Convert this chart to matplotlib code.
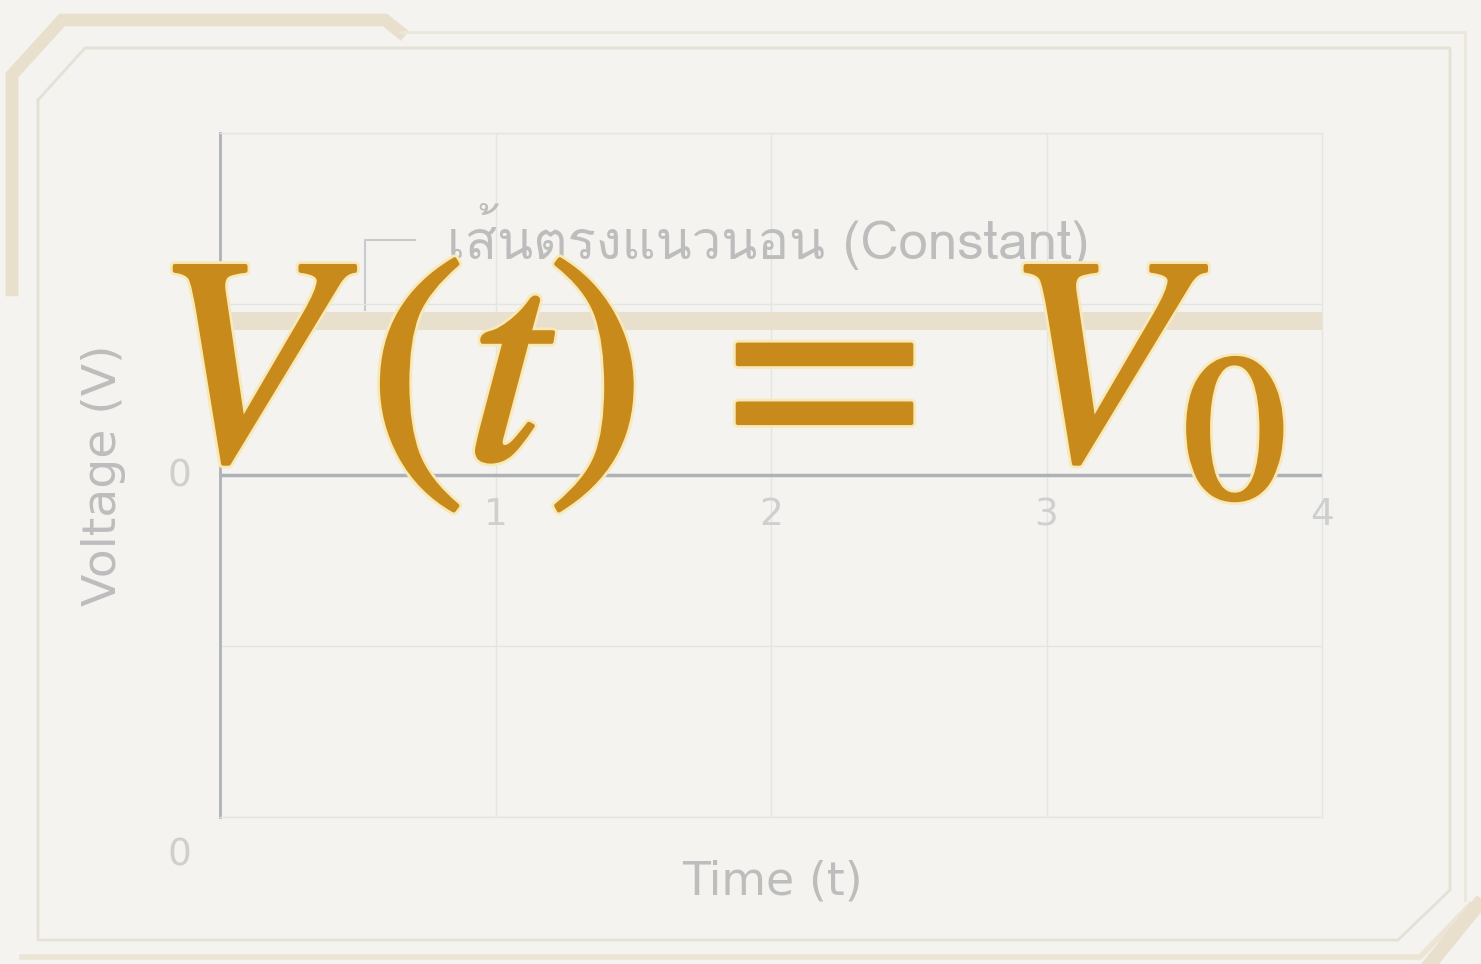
import numpy as np
import matplotlib
matplotlib.use("Agg")
import matplotlib.pyplot as plt
import matplotlib.patheffects as pe
from matplotlib import font_manager
from matplotlib.ft2font import FT2Font

# ---------- DATA ----------
TIME = [0, 4]
V0 = 0.9
X_TICKS = [1, 2, 3, 4]
Y_GRID = [-2, -1, 0, 1, 2]
LEGEND_TEXT = "เส้นตรงแนวนอน (Constant)"
X_LABEL = "Time (t)"
Y_LABEL = "Voltage (V)"
FORMULA = r"$V\,(t)\,=\,V_0$"
# --------------------------

BG = "#f4f3ef"
TAN = "#e9dfcd"
GREY_TXT = "#bdbdbd"
GOLD = "#c98a1c"


def thai_font():
    # look for any installed family that carries Thai glyphs
    for f in font_manager.fontManager.ttflist:
        try:
            if ord("เ") in FT2Font(f.fname).get_charmap():
                return f.name
        except Exception:
            pass
    return None


th = thai_font()
fams = ([th] if th else []) + ["DejaVu Sans"]

plt.rcParams["mathtext.fontset"] = "stix"

fig = plt.figure(figsize=(14.81, 9.64), dpi=100, facecolor=BG)

# frame decoration in pixel space
deco = fig.add_axes([0, 0, 1, 1], zorder=0)
deco.set_xlim(0, 1481)
deco.set_ylim(964, 0)
deco.axis("off")
deco.plot([12, 12, 62, 385, 400], [290, 75, 20, 20, 32], color=TAN, lw=9,
          solid_joinstyle="miter")
deco.plot([400, 1465, 1465], [32, 32, 900], color="#ece7dc", lw=2)
deco.plot([38, 38, 85, 1450, 1450, 1398, 38, 38],
          [100, 100, 48, 48, 890, 940, 940, 100], color="#e6e1d6", lw=2)
deco.plot([22, 1420, 1470], [957, 957, 905], color="#ece4d4", lw=4)
deco.plot([1430, 1478], [964, 905], color=TAN, lw=10)
# legend bracket
deco.plot([415, 365, 365], [240, 240, 310], color="#c9ccce", lw=1.5)

ax = fig.add_axes([220 / 1481, 1 - 817 / 964, 1102 / 1481, 684 / 964], zorder=1)
ax.set_facecolor("none")
ax.set_xlim(TIME)
ax.set_ylim(min(Y_GRID), max(Y_GRID))

for x in X_TICKS[:-1]:
    ax.axvline(x, color="#e4e4e2", lw=1, zorder=1)
for y in Y_GRID:
    ax.axhline(y, color="#e4e4e2", lw=1, zorder=1)
ax.axhline(0, color="#aeb2b6", lw=2.5, zorder=2)

for s in ["top", "right", "bottom"]:
    ax.spines[s].set_color("#e4e4e2")
    ax.spines[s].set_linewidth(1)
ax.spines["left"].set_color("#aeb2b6")
ax.spines["left"].set_linewidth(2)

ax.plot(TIME, [V0, V0], color=TAN, lw=13, solid_capstyle="butt", zorder=3)

ax.set_xticks([])
ax.set_yticks([])
for x in X_TICKS:
    ax.annotate(str(x), (x, 0), xytext=(0, -29), textcoords="offset points",
                ha="center", va="center", fontsize=27, color="#cfcfcf")
ax.annotate("0", (0, 0), xytext=(-29, -1), textcoords="offset points",
            ha="center", va="center", fontsize=27, color="#cfcfcf")
ax.annotate("0", (0, min(Y_GRID)), xytext=(-29, -28), textcoords="offset points",
            ha="center", va="center", fontsize=27, color="#cfcfcf")

fig.text(104 / 1481, 1 - 475 / 964, Y_LABEL, rotation=90, ha="center",
         va="center", fontsize=34, color=GREY_TXT)
fig.text(772 / 1481, 1 - 882 / 964, X_LABEL, ha="center", va="center",
         fontsize=33, color=GREY_TXT)
fig.text(768 / 1481, 1 - 236 / 964, LEGEND_TEXT, ha="center", va="center",
         fontsize=38, color=GREY_TXT, family=fams)

fig.text(718 / 1481, 1 - 378 / 964, FORMULA, ha="center", va="center",
         fontsize=212, color=GOLD, zorder=5,
         path_effects=[pe.withStroke(linewidth=7, foreground="#f8e9b8"),
                       pe.withStroke(linewidth=3, foreground=GOLD),
                       pe.Normal()])

fig.savefig("out.png", dpi=100, facecolor=BG)
